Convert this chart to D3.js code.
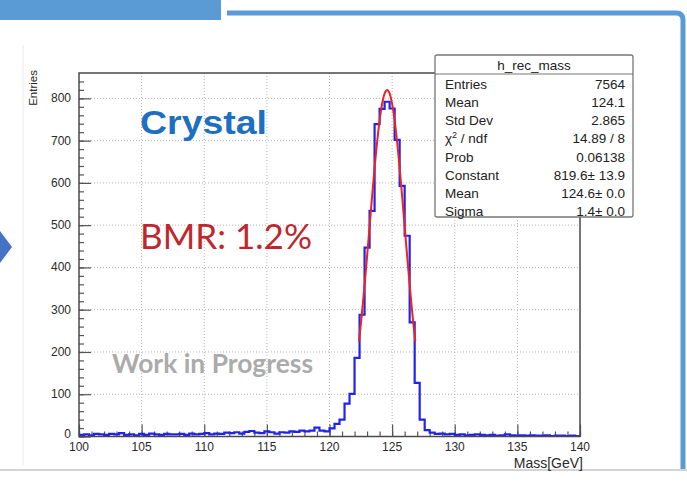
<!DOCTYPE html>
<html>
<head>
<meta charset="utf-8">
<script src="https://cdn.jsdelivr.net/npm/d3@7"></script>
<style>
  html, body { margin: 0; padding: 0; background: #fff; }
  svg { display: block; }
</style>
</head>
<body>
<svg id="chart" width="687" height="498"></svg>
<script>
// Histogram binning (GeV)
const massMin = 100;
const massMax = 140;
const binWidth = 0.4;

// Reconstructed mass counts per 0.4 GeV bin, 100 bins from 100 to 140 GeV
const counts = [
  4, 5, 3, 6, 5, 4, 6, 5, 8, 4,
  5, 3, 6, 4, 7, 5, 4, 6, 5, 5,
  6, 4, 7, 5, 6, 8, 5, 7, 6, 9,
  8, 10, 7, 11, 13, 9, 8, 12, 10, 7,
  10, 9, 12, 11, 14, 12, 14, 21, 14, 12,
  19, 30, 40, 78, 101, 186, 288, 447, 534, 739,
  775, 792, 776, 702, 593, 475, 270, 127, 40, 15,
  9, 6, 7, 5, 6, 4, 5, 3, 4, 5,
  4, 3, 4, 2, 3, 5, 3, 2, 3, 2,
  3, 2, 2, 3, 1, 2, 2, 1, 2, 1
];

// Gaussian fit parameters and fit range
const fitConstant = 819.6;
const fitMean = 124.6;
const fitSigma = 1.4;
const fitRange = [122.35, 126.85];

// Axis ticks
const xMajorTicks = [100, 105, 110, 115, 120, 125, 130, 135, 140];
const xMinorStep = 1;
const yMajorTicks = [0, 100, 200, 300, 400, 500, 600, 700, 800];
const yMinorStep = 20;
const yMax = 860;

// Statistics box rows
const statsTitle = "h_rec_mass";
const statsLabels = ["Entries", "Mean", "Std Dev", "χ2 / ndf", "Prob", "Constant", "Mean", "Sigma"];
const statsValues = ["7564", "124.1", "2.865", "14.89 / 8", "0.06138", "819.6\u00b1 13.9", "124.6\u00b1 0.0", "1.4\u00b1 0.0"];

const svg = d3.select("#chart");
const W = 687, H = 498;
const frame = { left: 79, right: 580, top: 73, bottom: 436.5 };

svg.append("rect").attr("width", W).attr("height", H).attr("fill", "#fff");

// Slide decorations
svg.append("rect").attr("x", 0).attr("y", 0).attr("width", 221).attr("height", 20).attr("fill", "#5b9bd5");
svg.append("path")
  .attr("d", "M227,13 H676 Q683,13 683,20 V470")
  .attr("fill", "none").attr("stroke", "#5b9bd5").attr("stroke-width", 5);
svg.append("line").attr("x1", 0).attr("x2", W).attr("y1", 470).attr("y2", 470)
  .attr("stroke", "#d4d4d4").attr("stroke-width", 2);
svg.append("polygon").attr("points", "0,231 12,247 0,263").attr("fill", "#4472c4");
svg.append("line").attr("x1", 23).attr("x2", 23).attr("y1", 45).attr("y2", 465)
  .attr("stroke", "#ececec").attr("stroke-width", 1);

const x = d3.scaleLinear().domain([massMin, massMax]).range([frame.left, frame.right]);
const y = d3.scaleLinear().domain([0, yMax]).range([frame.bottom, frame.top]);

const font = "'Liberation Sans', Arial, Helvetica, sans-serif";

// Grid
const grid = svg.append("g").attr("stroke", "#b4b4b4").attr("stroke-width", 1).attr("stroke-dasharray", "1,2");
xMajorTicks.slice(1, -1).forEach(v => {
  grid.append("line").attr("x1", x(v)).attr("x2", x(v)).attr("y1", frame.top).attr("y2", frame.bottom);
});
yMajorTicks.slice(1).forEach(v => {
  grid.append("line").attr("x1", frame.left).attr("x2", frame.right).attr("y1", y(v)).attr("y2", y(v));
});

// Axes with ticks drawn inside the frame
const xMinor = d3.range(massMin, massMax + 0.001, xMinorStep);
const yMinor = d3.range(0, yMax, yMinorStep);

const xAxis = d3.axisTop(x).tickValues(xMajorTicks).tickSize(12).tickFormat("");
const xAxisMinor = d3.axisTop(x).tickValues(xMinor).tickSize(5).tickFormat("");
const yAxis = d3.axisRight(y).tickValues(yMajorTicks).tickSize(12).tickFormat("");
const yAxisMinor = d3.axisRight(y).tickValues(yMinor).tickSize(5).tickFormat("");

[xAxis, xAxisMinor].forEach(a => {
  svg.append("g").attr("transform", `translate(0,${frame.bottom})`).call(a)
    .call(g => g.select(".domain").remove())
    .selectAll("line").attr("stroke", "#555").attr("stroke-width", 1.2);
});
[yAxis, yAxisMinor].forEach(a => {
  svg.append("g").attr("transform", `translate(${frame.left},0)`).call(a)
    .call(g => g.select(".domain").remove())
    .selectAll("line").attr("stroke", "#555").attr("stroke-width", 1.2);
});

// Tick labels
svg.append("g").selectAll("text").data(xMajorTicks).join("text")
  .attr("x", d => x(d)).attr("y", 451)
  .attr("text-anchor", "middle").attr("font-family", font).attr("font-size", 12)
  .attr("fill", "#2a2a2a").text(d => d);
svg.append("g").selectAll("text").data(yMajorTicks).join("text")
  .attr("x", 71).attr("y", d => Math.min(y(d) + 4, 437.5))
  .attr("text-anchor", "end").attr("font-family", font).attr("font-size", 12)
  .attr("fill", "#2a2a2a").text(d => d);

// Axis titles
svg.append("text").attr("x", 583).attr("y", 468).attr("text-anchor", "end")
  .attr("font-family", font).attr("font-size", 14).attr("fill", "#2a2a2a").text("Mass[GeV]");
svg.append("text").attr("transform", "translate(37,70) rotate(-90)").attr("text-anchor", "end")
  .attr("font-family", font).attr("font-size", 11.5).attr("fill", "#2a2a2a").text("Entries");

// Annotations
svg.append("text").attr("x", 140).attr("y", 134)
  .attr("font-family", font).attr("font-weight", "bold").attr("font-size", 34)
  .attr("textLength", 127).attr("lengthAdjust", "spacingAndGlyphs")
  .attr("fill", "#1f6fc1").text("Crystal");
svg.append("text").attr("x", 140).attr("y", 249)
  .attr("font-family", "Lato, 'Open Sans', sans-serif").attr("font-size", 34)
  .attr("textLength", 172).attr("lengthAdjust", "spacingAndGlyphs")
  .attr("fill", "#c0272d").text("BMR: 1.2%");
svg.append("text").attr("x", 112).attr("y", 373)
  .attr("font-family", "Lato, 'Open Sans', sans-serif").attr("font-weight", "bold").attr("font-size", 26)
  .attr("textLength", 201).attr("lengthAdjust", "spacingAndGlyphs")
  .attr("fill", "#ababab").text("Work in Progress");

// Histogram outline
svg.append("clipPath").attr("id", "frameClip")
  .append("rect").attr("x", frame.left).attr("y", frame.top)
  .attr("width", frame.right - frame.left).attr("height", frame.bottom - frame.top);

const stepPts = [];
counts.forEach((c, i) => {
  const lo = massMin + i * binWidth;
  stepPts.push([lo, c], [lo + binWidth, c]);
});
const histLine = d3.line().x(d => x(d[0])).y(d => y(d[1]));
svg.append("path").attr("clip-path", "url(#frameClip)")
  .attr("d", histLine(stepPts))
  .attr("fill", "none").attr("stroke", "#2222ee").attr("stroke-width", 2.2)
  .attr("stroke-linejoin", "miter");

// Gaussian fit curve
const fitPts = d3.range(0, 201).map(k => {
  const m = fitRange[0] + (fitRange[1] - fitRange[0]) * k / 200;
  return [m, fitConstant * Math.exp(-0.5 * Math.pow((m - fitMean) / fitSigma, 2))];
});
svg.append("path")
  .attr("d", d3.line().curve(d3.curveBasis).x(d => x(d[0])).y(d => y(d[1]))(fitPts))
  .attr("fill", "none").attr("stroke", "#ee2222").attr("stroke-width", 2);

// Frame
svg.append("rect").attr("x", frame.left).attr("y", frame.top)
  .attr("width", frame.right - frame.left).attr("height", frame.bottom - frame.top)
  .attr("fill", "none").attr("stroke", "#4a4a4a").attr("stroke-width", 1.5);

// Statistics box
const box = { x: 435, y: 55, w: 198, h: 162 };
const stats = svg.append("g");
stats.append("rect").attr("x", box.x).attr("y", box.y).attr("width", box.w).attr("height", box.h)
  .attr("rx", 2).attr("fill", "#fff").attr("stroke", "#777").attr("stroke-width", 1.3);
stats.append("line").attr("x1", box.x).attr("x2", box.x + box.w).attr("y1", 74).attr("y2", 74)
  .attr("stroke", "#777").attr("stroke-width", 1.2);
stats.append("text").attr("x", box.x + box.w / 2).attr("y", 69.5).attr("text-anchor", "middle")
  .attr("font-family", font).attr("font-size", 13.5).attr("fill", "#222").text(statsTitle);

const rowY = i => 89 + i * 18.15;
statsLabels.forEach((lab, i) => {
  const t = stats.append("text").attr("x", 445).attr("y", rowY(i))
    .attr("font-family", font).attr("font-size", 13.5).attr("fill", "#222");
  if (lab.startsWith("χ2")) {
    t.append("tspan").text("χ");
    t.append("tspan").attr("dy", -5).attr("font-size", 9).text("2");
    t.append("tspan").attr("dy", 5).text(" / ndf");
  } else {
    t.text(lab);
  }
});
statsValues.forEach((val, i) => {
  stats.append("text").attr("x", 625).attr("y", rowY(i)).attr("text-anchor", "end")
    .attr("font-family", font).attr("font-size", 13.5).attr("fill", "#222").text(val);
});
</script>
</body>
</html>
